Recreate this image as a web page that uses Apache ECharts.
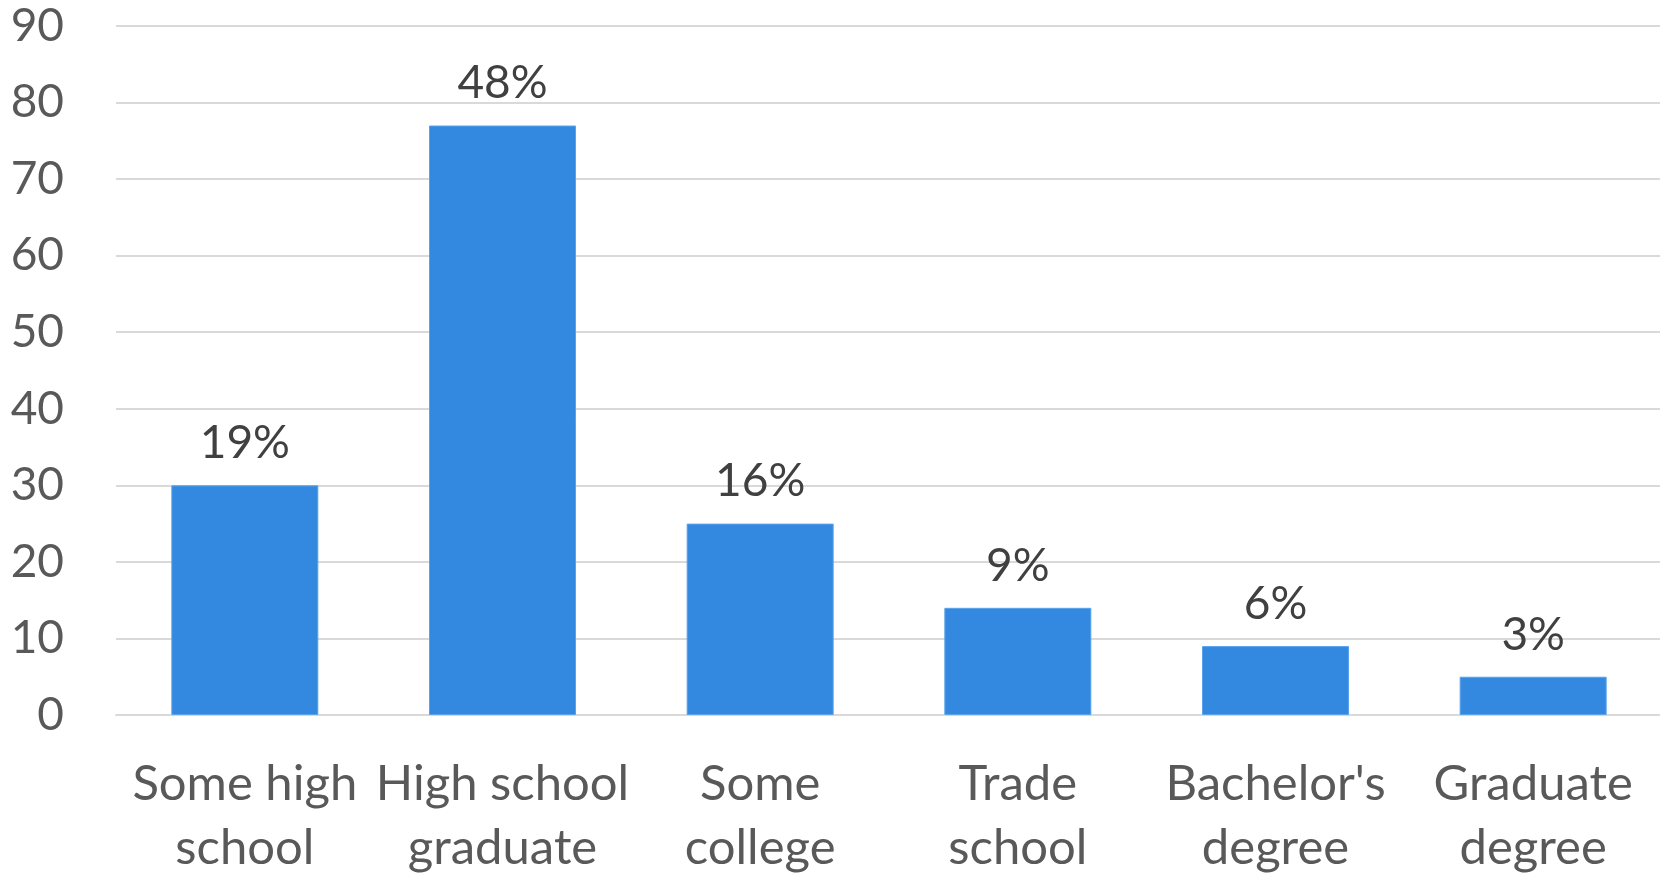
<!DOCTYPE html>
<html>
<head>
<meta charset="utf-8">
<script src="https://cdn.jsdelivr.net/npm/echarts@6/dist/echarts.min.js"></script>
<style>
html,body{margin:0;padding:0;background:#fff;}
#chart{width:1660px;height:877px;}
</style>
</head>
<body>
<div id="chart"></div>
<script>
const categories = ["Some high\nschool", "High school\ngraduate", "Some\ncollege", "Trade\nschool", "Bachelor's\ndegree", "Graduate\ndegree"];
const counts = [30, 77, 25, 14, 9, 5];
const percentLabels = ["19%", "48%", "16%", "9%", "6%", "3%"];
const yTicks = [0, 10, 20, 30, 40, 50, 60, 70, 80, 90];

const chart = echarts.init(document.getElementById('chart'), null, {renderer: 'canvas'});
chart.setOption({
  animation: false,
  backgroundColor: '#ffffff',
  grid: {left: 116, right: -2, top: 26, bottom: 162, containLabel: false, outerBoundsMode: 'none'},
  xAxis: {
    type: 'category',
    data: categories,
    axisLine: {show: true, lineStyle: {color: '#D9D9D9', width: 2}},
    axisTick: {show: false},
    axisLabel: {
      color: '#595959',
      fontFamily: 'Lato',
      fontSize: 49,
      lineHeight: 64,
      margin: 37,
      interval: 0
    }
  },
  yAxis: {
    type: 'value',
    min: yTicks[0],
    max: yTicks[yTicks.length - 1],
    interval: 10,
    axisLine: {show: false},
    axisTick: {show: false},
    splitLine: {lineStyle: {color: '#D9D9D9', width: 2}},
    axisLabel: {
      color: '#595959',
      fontFamily: 'Lato',
      fontSize: 46,
      margin: 52
    }
  },
  series: [{
    type: 'bar',
    data: counts,
    barWidth: 147,
    itemStyle: {color: '#3389E0', borderColor: '#5AA2EA', borderWidth: 1},
    label: {
      show: true,
      position: 'top',
      distance: 19,
      color: '#404040',
      fontFamily: 'Lato',
      fontSize: 46,
      formatter: function (p) { return percentLabels[p.dataIndex]; }
    }
  }]
});
</script>
</body>
</html>
